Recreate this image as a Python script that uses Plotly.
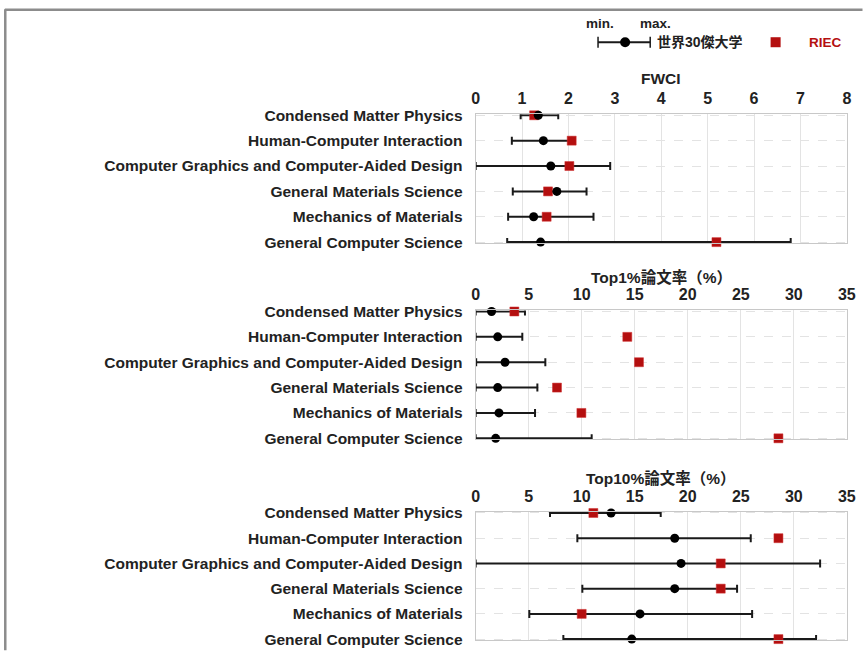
import plotly.graph_objects as go

W, H = 863, 651
# the photographed page shows the figure offset by the 8px body margin and
# scaled by 863/879 x 651/667; target page pixels are mapped back here.
OFF = 8
SX = (W + 2 * OFF) / W
SY = (H + 2 * OFF) / H

categories = [
    "Condensed Matter Physics",
    "Human-Computer Interaction",
    "Computer Graphics and Computer-Aided Design",
    "General Materials Science",
    "Mechanics of Materials",
    "General Computer Science",
]

fwci_world = [1.35, 1.46, 1.62, 1.75, 1.25, 1.40]
fwci_min = [0.97, 0.78, 0.0, 0.80, 0.70, 0.68]
fwci_max = [1.78, 2.07, 2.90, 2.39, 2.54, 6.79]
fwci_riec = [1.26, 2.07, 2.02, 1.56, 1.53, 5.19]

top1_world = [1.50, 2.08, 2.77, 2.08, 2.20, 1.89]
top1_min = [0.0, 0.0, 0.05, 0.0, 0.0, 0.0]
top1_max = [4.65, 4.40, 6.57, 5.82, 5.60, 10.94]
top1_riec = [3.65, 14.3, 15.4, 7.67, 9.97, 28.55]

top10_world = [12.77, 18.77, 19.37, 18.77, 15.5, 14.72]
top10_min = [7.01, 9.59, 0.0, 10.06, 5.06, 8.27]
top10_max = [17.45, 25.94, 32.48, 24.65, 26.07, 32.1]
top10_riec = [11.1, 28.55, 23.11, 23.11, 10.0, 28.55]

panel_titles = ["FWCI", "Top1%論文率（%）", "Top10%論文率（%）"]
x_ranges = [[0, 8], [0, 35], [0, 35]]
x_dticks = [1, 5, 5]

legend_world = "世界30傑大学"
legend_riec = "RIEC"

RED = "#B40F0F"
FONT = "Liberation Sans, Noto Sans CJK JP, sans-serif"
TXT = "#222222"

def fx(t):
    return t * SX - OFF

def fy(t):
    return t * SY - OFF

def px_x(t):
    return fx(t) / W

def px_y(t):
    return 1 - fy(t) / H

PAD = 0.04
panels_px = [(115, 241.7), (311, 437.7), (512.3, 638.3)]
title_y_px = [78, 277, 478]
x_dom = [px_x(478), px_x(848)]

data = [
    (fwci_world, fwci_min, fwci_max, fwci_riec),
    (top1_world, top1_min, top1_max, top1_riec),
    (top10_world, top10_min, top10_max, top10_riec),
]

fig = go.Figure()
ypos = list(range(len(categories)))
n = len(categories) - 1

for i, (world, mn, mx, riec) in enumerate(data):
    xa = "x" if i == 0 else f"x{i+1}"
    ya = "y" if i == 0 else f"y{i+1}"
    plus = [b - a for a, b in zip(world, mx)]
    minus = [a - b for a, b in zip(world, mn)]
    fig.add_trace(go.Scatter(
        x=world, y=ypos, xaxis=xa, yaxis=ya, mode="markers",
        marker=dict(size=1, color="rgba(0,0,0,0)"),
        error_x=dict(type="data", symmetric=False, array=plus, arrayminus=minus,
                     color="#1a1a1a", thickness=2, width=4),
        cliponaxis=False, showlegend=False, hoverinfo="skip"))
    fig.add_trace(go.Scatter(
        x=riec, y=ypos, xaxis=xa, yaxis=ya, mode="markers",
        marker=dict(symbol="square", size=9, color=RED,
                    line=dict(color="#d03030", width=0.5)),
        cliponaxis=False, showlegend=False, name=legend_riec))
    fig.add_trace(go.Scatter(
        x=world, y=ypos, xaxis=xa, yaxis=ya, mode="markers",
        marker=dict(symbol="circle", size=9, color="#000000"),
        cliponaxis=False, showlegend=False, name=legend_world))

    top, bot = panels_px[i]
    step = (bot - top) / n
    dom_top = top - PAD * step
    dom_bot = bot + PAD * step
    xkey = "xaxis" if i == 0 else f"xaxis{i+1}"
    ykey = "yaxis" if i == 0 else f"yaxis{i+1}"
    fig.update_layout(**{
        xkey: dict(domain=x_dom, anchor=ya, side="top", range=x_ranges[i],
                   dtick=x_dticks[i], tick0=0, showgrid=True,
                   gridcolor="#e3e3e3", gridwidth=1, zeroline=False,
                   showline=True, linecolor="#c8c8c8", linewidth=1, mirror=True,
                   ticks="", ticklabelstandoff=3,
                   tickfont=dict(family=FONT, size=16, color=TXT, weight="bold")),
        ykey: dict(domain=[px_y(dom_bot), px_y(dom_top)], anchor=xa,
                   range=[n + PAD, -PAD],
                   tickmode="array", tickvals=ypos, ticktext=categories,
                   showgrid=True, gridcolor="#e3e3e3", griddash="dash", gridwidth=1,
                   zeroline=False, showline=True, linecolor="#c8c8c8", linewidth=1,
                   mirror=True, ticks="", ticklabelstandoff=9,
                   tickfont=dict(family=FONT, size=15.5, color=TXT, weight="bold")),
    })
    fig.add_annotation(x=(x_dom[0] + x_dom[1]) / 2, y=px_y(title_y_px[i]),
                       xref="paper", yref="paper", text=panel_titles[i],
                       showarrow=False, xanchor="center", yanchor="middle",
                       font=dict(family=FONT, size=15.5, color=TXT, weight="bold"))

# outer frame (top and left edges)
fig.add_shape(type="line", xref="paper", yref="paper", x0=0.001, x1=1.01,
              y0=px_y(9.5), y1=px_y(9.5), line=dict(color="#8c8c8c", width=2.5))
fig.add_shape(type="line", xref="paper", yref="paper", x0=0.0015, x1=0.0015,
              y0=px_y(9), y1=-0.01, line=dict(color="#8c8c8c", width=2.5))

# legend (drawn)
ly = px_y(42)
fig.add_shape(type="line", xref="paper", yref="paper", x0=px_x(600), x1=px_x(652),
              y0=ly, y1=ly, line=dict(color="#1a1a1a", width=2))
for cx in (600, 652):
    fig.add_shape(type="line", xref="paper", yref="paper", x0=px_x(cx), x1=px_x(cx),
                  y0=px_y(36.5), y1=px_y(47.5), line=dict(color="#1a1a1a", width=1.5))
fig.add_shape(type="circle", xref="paper", yref="paper", x0=px_x(622), x1=px_x(632),
              y0=px_y(47), y1=px_y(37), fillcolor="#000000", line=dict(width=0))
fig.add_shape(type="rect", xref="paper", yref="paper", x0=px_x(772), x1=px_x(782),
              y0=px_y(47), y1=px_y(37), fillcolor=RED, line=dict(width=0))
for txt, cx, cy, col, sz in [("min.", 602, 23, TXT, 13.5), ("max.", 657, 23, TXT, 13.5),
                             (legend_world, 701.5, 42, TXT, 14),
                             (legend_riec, 827, 42, RED, 13.5)]:
    fig.add_annotation(x=px_x(cx), y=px_y(cy), xref="paper", yref="paper", text=txt,
                       showarrow=False, xanchor="center", yanchor="middle",
                       font=dict(family=FONT, size=sz, color=col, weight="bold"))

fig.update_layout(width=W, height=H, margin=dict(l=0, r=0, t=0, b=0),
                  paper_bgcolor="white", plot_bgcolor="white", showlegend=False)

fig.write_html("out.html")
